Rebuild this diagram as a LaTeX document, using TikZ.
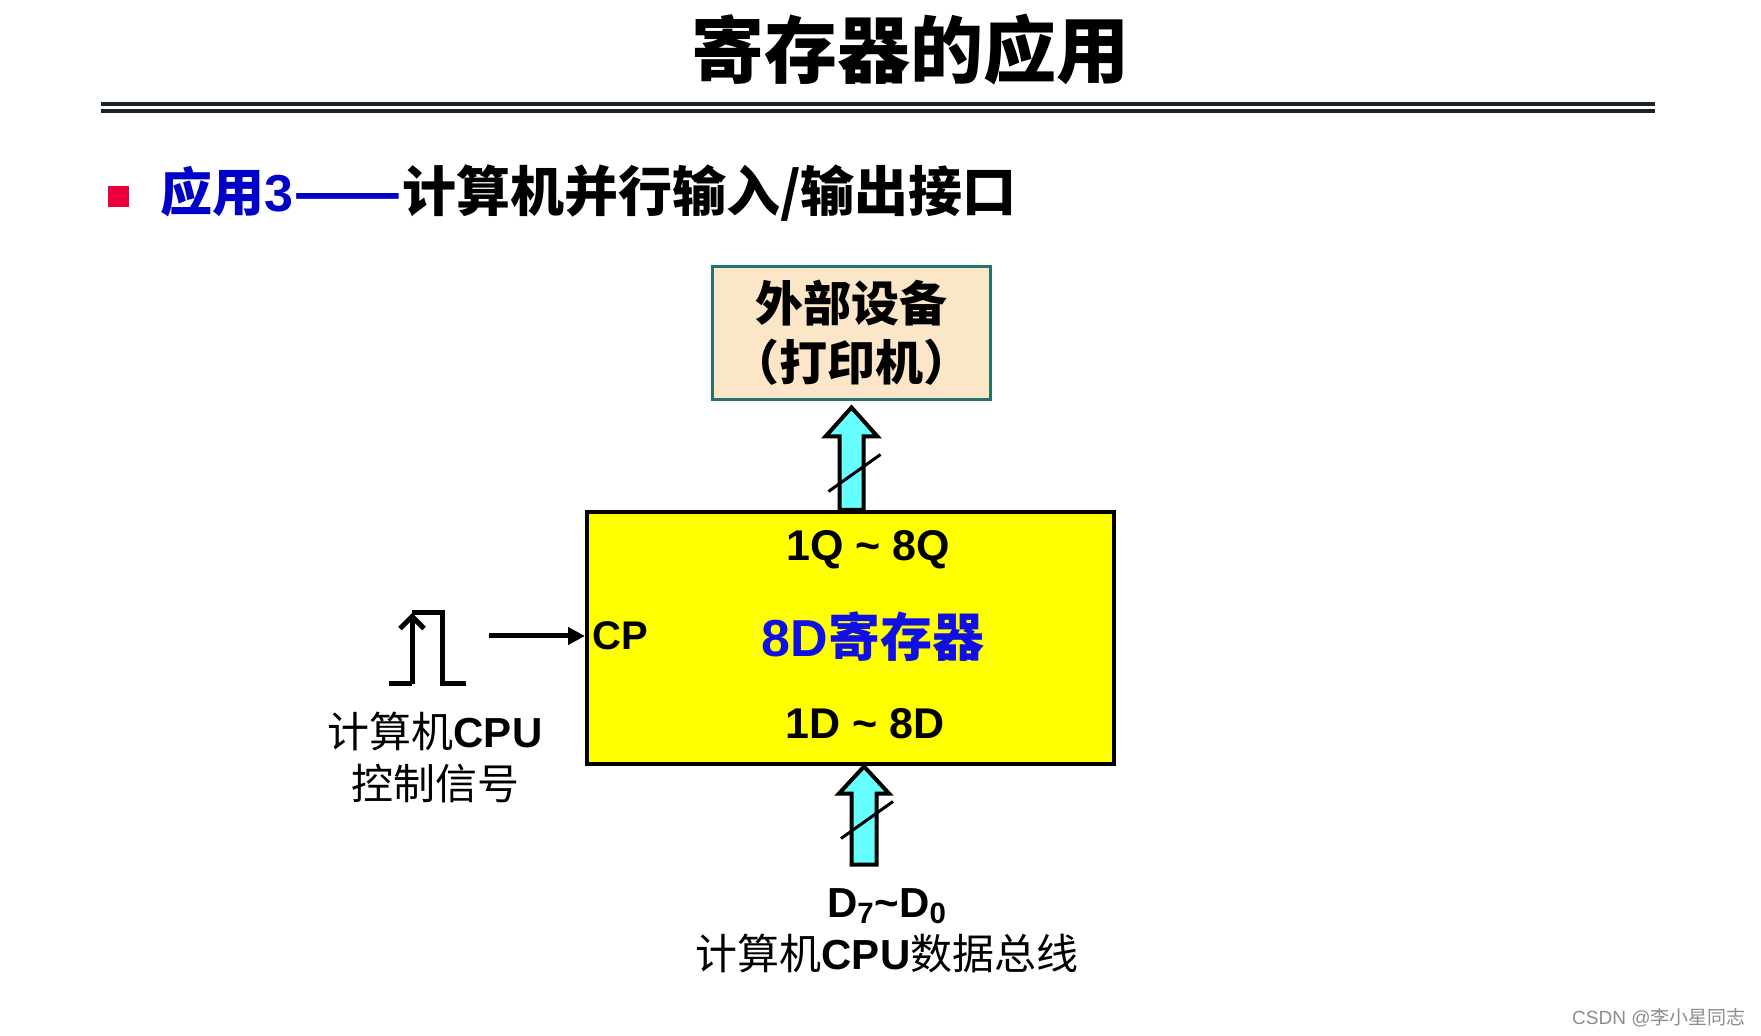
\documentclass[tikz,border=0pt]{standalone}
\usepackage{fontspec}
\setmainfont{Liberation Sans}
\newfontfamily\cjk{Noto Sans CJK SC}
\usetikzlibrary{arrows.meta,calc}

\definecolor{regyellow}{RGB}{255,255,0}
\definecolor{devfill}{RGB}{252,230,200}
\definecolor{devteal}{RGB}{38,115,110}
\definecolor{buscyan}{RGB}{102,255,255}
\definecolor{regblue}{RGB}{16,16,230}
\definecolor{subblue}{RGB}{0,0,200}
\definecolor{bulletred}{RGB}{235,0,60}
\definecolor{rulegray}{RGB}{25,35,40}

\begin{document}
\begin{tikzpicture}[
  x=0.5pt, y=-0.5pt,
  regbox/.style={draw=black, line width=2pt, fill=regyellow, inner sep=0pt,
                 minimum width=263.5pt, minimum height=126pt},
  devbox/.style={draw=devteal, line width=1.5pt, fill=devfill, inner sep=0pt,
                 minimum width=139pt, minimum height=66.5pt, align=center,
                 font=\fontsize{24}{29.5}\selectfont\cjk\bfseries},
  pin/.style={font=\fontsize{21.5}{26}\selectfont\bfseries, inner sep=0pt},
  lab/.style={font=\fontsize{21}{26}\selectfont\bfseries, align=center, inner sep=0pt},
  bus/.style={draw=black, line width=2pt, fill=buscyan, line join=miter},
  slash/.style={draw=black, line width=1.5pt},
  wave/.style={line width=2.5pt},
  arr/.style={-{Triangle[length=8.5pt, width=8.5pt]}, line width=2.5pt},
  rule/.style={line width=2pt, draw=rulegray}
]
\path[fill=white, use as bounding box] (0,0) rectangle (1761,1036);

% ================= heading =================
\node[font=\fontsize{36.5}{40}\selectfont\cjk\bfseries, inner sep=0pt] (title) at (910,50) {寄存器的应用};
\draw[rule] (101,104.5) -- (1655,104.5);
\draw[rule] (101,111) -- (1655,111);

\node[fill=bulletred, minimum size=10.5pt, inner sep=0pt] (dot) at (118,197) {};
\node[anchor=west, font=\fontsize{26}{30}\selectfont\bfseries, inner sep=0pt] (sub) at (160,193)
  {\textcolor{subblue}{{\cjk 应用}3{\cjk\scalebox{1.22}[1]{——}}}{\cjk\fontsize{27}{30}\selectfont 计算机并行输入/输出接口}};

% ================= printer and register =================
\node[devbox] (dev) at (851.5,333) {外部设备\\（打印机）};

\node[regbox] (reg) at (850.5,638) {};
\node[pin] (qout) at (868,550) {1Q \textasciitilde{} 8Q};
\node[font=\fontsize{26}{30}\selectfont\bfseries, text=regblue, inner sep=0pt] (name) at (873,637) {8D{\cjk 寄存器}};
\node[pin] (din) at (865,724) {1D \textasciitilde{} 8D};
\node[font=\fontsize{20}{24}\selectfont\bfseries, inner sep=0pt, anchor=west] (cp) at (592,636) {CP};

% ================= data buses =================
% register -> printer
\coordinate (up) at ($(dev.south)+(0,6.5)$);
\draw[bus] ($(up |- reg.north)+(-12,0)$) -- ($(up)+(-12,29)$) -- ($(up)+(-26,29)$) -- (up)
  -- ($(up)+(26,29)$) -- ($(up)+(12,29)$) -- ($(up |- reg.north)+(12,0)$) -- cycle;
\draw[slash] ($(up)+(-23,84)$) -- ($(up)+(29,47)$);

% CPU bus -> register
\coordinate (dn) at ($(reg.south)+(13.5,0.5)$);
\draw[bus] ($(dn)+(-12.5,98)$) -- ($(dn)+(-12.5,27)$) -- ($(dn)+(-25,27)$) -- (dn)
  -- ($(dn)+(25,27)$) -- ($(dn)+(12.5,27)$) -- ($(dn)+(12.5,98)$) -- cycle;
\draw[slash] ($(dn)+(-23,72)$) -- ($(dn)+(29,35)$);

\node[lab] (dbus) at (887,931)
  {D\textsubscript{7}\textasciitilde D\textsubscript{0}\\{\cjk\mdseries 计算机}CPU{\cjk\mdseries 数据总线}};

% ================= clock =================
\draw[wave] (389,684) -- (412,684);
\draw[wave, -{Straight Barb[length=6pt, width=12pt]}] (412,684) -- (412,613);
\draw[wave] (412,613) -- (442,613) -- (442,684) -- (466,684);

\coordinate (clk) at (489,636);
\draw[arr] (clk) -- (reg.west |- clk);

\node[lab] (ctl) at (435,757) {{\cjk\mdseries 计算机}CPU\\{\cjk\mdseries 控制信号}};

\node[anchor=east, text=black!45, font=\fontsize{9.5}{11}\selectfont, inner sep=0pt] (mark) at (1746,1018)
  {CSDN @{\cjk 李小星同志}};

\end{tikzpicture}
\end{document}
